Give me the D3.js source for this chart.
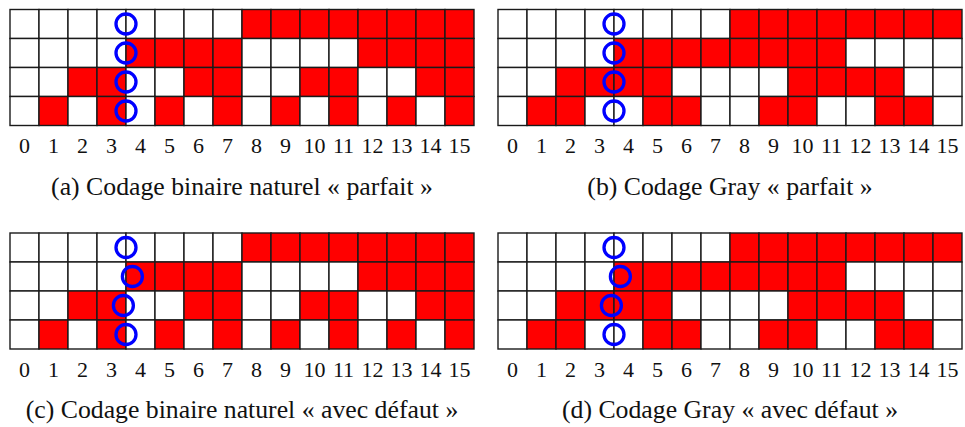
<!DOCTYPE html>
<html><head><meta charset="utf-8">
<script src="https://cdn.jsdelivr.net/npm/d3@7"></script>
<style>
html,body{margin:0;padding:0;background:#fff;}
svg{display:block;}
text{font-family:"Liberation Serif","Times New Roman",serif;fill:#111;}
</style></head>
<body>
<svg id="chart" width="965" height="427"></svg>
<script>
// tick labels (columns)
const categories = ["0","1","2","3","4","5","6","7","8","9","10","11","12","13","14","15"];
// bit rows, top row = most significant bit
const binaryBits = [
  [0,0,0,0,0,0,0,0,1,1,1,1,1,1,1,1],
  [0,0,0,0,1,1,1,1,0,0,0,0,1,1,1,1],
  [0,0,1,1,0,0,1,1,0,0,1,1,0,0,1,1],
  [0,1,0,1,0,1,0,1,0,1,0,1,0,1,0,1]
];
const grayBits = [
  [0,0,0,0,0,0,0,0,1,1,1,1,1,1,1,1],
  [0,0,0,0,1,1,1,1,1,1,1,1,0,0,0,0],
  [0,0,1,1,1,1,0,0,0,0,1,1,1,1,0,0],
  [0,1,1,0,0,1,1,0,0,1,1,0,0,1,1,0]
];
// reading head positions (column units, one per row)
const perfectHeads = [4.0, 4.0, 4.0, 4.0];
const defectHeads  = [4.0, 4.22, 3.91, 4.0];
const captions = [
  "(a) Codage binaire naturel « parfait »",
  "(b) Codage Gray « parfait »",
  "(c) Codage binaire naturel « avec défaut »",
  "(d) Codage Gray « avec défaut »"
];

const panels = [
  {bits: binaryBits, heads: perfectHeads, caption: captions[0], x: 10, y: 9.5},
  {bits: grayBits,   heads: perfectHeads, caption: captions[1], x: 498, y: 9.5},
  {bits: binaryBits, heads: defectHeads,  caption: captions[2], x: 10, y: 233},
  {bits: grayBits,   heads: defectHeads,  caption: captions[3], x: 498, y: 233}
];

const W = 464, H = 116;
const svg = d3.select("#chart");

const xBand = d3.scaleBand().domain(categories).range([0, W]).paddingInner(0).paddingOuter(0);
const yBand = d3.scaleBand().domain(d3.range(4)).range([0, H]);
const xLin = d3.scaleLinear().domain([0, categories.length]).range([0, W]);

// fit caption font so that caption (a) is ~382px wide like the reference
const probe = svg.append("text").attr("font-size", 20).text(captions[0]);
const capSize = 20 * 382 / probe.node().getComputedTextLength();
probe.remove();

panels.forEach(p => {
  const g = svg.append("g").attr("transform", `translate(${p.x},${p.y})`);
  const cells = [];
  p.bits.forEach((row, r) => row.forEach((v, c) => cells.push({r, c, v})));
  g.selectAll("rect.cell").data(cells).join("rect")
    .attr("class", "cell")
    .attr("x", d => xBand(categories[d.c]))
    .attr("y", d => yBand(d.r))
    .attr("width", xBand.bandwidth())
    .attr("height", yBand.bandwidth())
    .attr("fill", d => d.v ? "#ff0000" : "#ffffff")
    .attr("stroke", "#1a1a1a")
    .attr("stroke-width", 1.4);

  g.selectAll("circle.head").data(p.heads).join("circle")
    .attr("class", "head")
    .attr("cx", d => xLin(d))
    .attr("cy", (d, i) => yBand(i) + yBand.bandwidth() / 2)
    .attr("r", 10)
    .attr("fill", "none")
    .attr("stroke", "#0000ff")
    .attr("stroke-width", 3.3);

  const ax = g.append("g").attr("transform", `translate(0,${H})`)
    .call(d3.axisBottom(xBand).tickSize(0).tickPadding(12));
  ax.select(".domain").remove();
  ax.selectAll("text").attr("font-size", 22).attr("fill", "#111")
    .attr("font-family", "Liberation Serif, serif").attr("dy", "0.71em");

  g.append("text")
    .attr("x", W / 2)
    .attr("y", H + 69)
    .attr("text-anchor", "middle")
    .attr("font-size", capSize)
    .text(p.caption);
});
</script>
</body></html>
